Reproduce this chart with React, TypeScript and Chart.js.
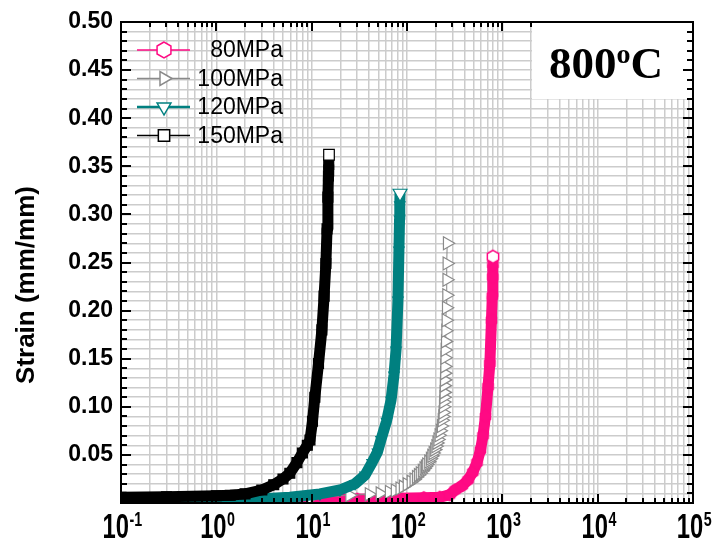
import React, { useEffect, useRef } from 'react';
import { Chart, registerables } from 'chart.js';

Chart.register(...registerables);

// ---------- data ----------
const SERIES_LABELS = ['80MPa', '100MPa', '120MPa', '150MPa'];
const SERIES_COLORS = ['#ff0a84', '#8a8a8a', '#008080', '#000000'];

// 80 MPa (time h, strain)
const T_80 = [0.1, 0.5, 2, 5, 10, 30, 80, 150, 220, 280, 319, 380, 437, 490, 542, 590, 627, 665, 708, 740, 769, 785, 793, 796, 798];
const S_80 = [0.0005, 0.001, 0.0015, 0.0025, 0.003, 0.004, 0.005, 0.0055, 0.006, 0.0085, 0.0135, 0.018, 0.024, 0.032, 0.042, 0.055, 0.07, 0.09, 0.121, 0.145, 0.19, 0.215, 0.235, 0.248, 0.256];

// 100 MPa
const T_100 = [3, 10, 25, 40, 52, 65, 75, 84, 91, 100, 110, 118, 125, 131, 137, 144, 150, 155, 160, 168, 175, 181, 187, 194, 200, 205, 210, 216, 222, 228, 233, 236, 238, 240, 242, 243, 244, 245, 246, 247, 248, 249, 250, 252, 254, 256, 258, 260, 261, 262, 264];
const S_100 = [0.004, 0.006, 0.008, 0.009, 0.01, 0.0115, 0.013, 0.015, 0.017, 0.0195, 0.022, 0.0245, 0.027, 0.029, 0.031, 0.0335, 0.036, 0.038, 0.04, 0.043, 0.046, 0.049, 0.052, 0.0555, 0.059, 0.0625, 0.066, 0.0705, 0.075, 0.08, 0.086, 0.09, 0.094, 0.1, 0.105, 0.11, 0.115, 0.122, 0.128, 0.135, 0.142, 0.151, 0.159, 0.168, 0.179, 0.19, 0.203, 0.216, 0.232, 0.249, 0.27];

// 120 MPa
const T_120 = [0.3, 1, 3, 5.9, 12.2, 19.8, 28.5, 36.3, 43, 49, 53.4, 61, 68, 73, 76.7, 80.4, 82.3, 83.5, 84, 84.5];
const S_120 = [0.002, 0.003, 0.0045, 0.006, 0.0094, 0.0135, 0.02, 0.029, 0.042, 0.053, 0.066, 0.085, 0.107, 0.133, 0.159, 0.211, 0.263, 0.295, 0.31, 0.322];

// 150 MPa
const T_150 = [0.1, 0.3, 1, 1.4, 2, 3, 4, 5, 5.9, 7, 8, 9, 9.6, 10.2, 10.8, 11.8, 12.8, 13.5, 14.1, 14.5, 14.8, 15.0, 15.1, 15.2];
const S_150 = [0.006, 0.0065, 0.0075, 0.008, 0.0095, 0.0135, 0.019, 0.025, 0.031, 0.042, 0.052, 0.06, 0.0655, 0.085, 0.11, 0.145, 0.18, 0.215, 0.249, 0.285, 0.318, 0.34, 0.352, 0.362];

const X_EXPONENTS = [-1, 0, 1, 2, 3, 4, 5];
const Y_MIN = 0;
const Y_MAX = 0.5;
const Y_MINOR_HUNDREDTHS = 1; // minor step 0.01
const Y_MAJOR_HUNDREDTHS = 5; // labelled every 0.05
const Y_TITLE = 'Strain (mm/mm)';
const BOX_MAIN = '800';
const BOX_SUP = 'o';
const BOX_END = 'C';

// ---------- helpers ----------
const SANS = 'Arial, "Liberation Sans", sans-serif';
const SERIF = '"Times New Roman", "Liberation Serif", serif';
const GRID = 'rgb(204,204,204)';

function hexPath(g: CanvasRenderingContext2D, x: number, y: number, r: number) {
  g.beginPath();
  for (let k = 0; k < 6; k++) {
    const a = Math.PI / 2 + (k * Math.PI) / 3;
    const px = x + r * Math.cos(a);
    const py = y - r * Math.sin(a);
    if (k === 0) g.moveTo(px, py);
    else g.lineTo(px, py);
  }
  g.closePath();
}

function makeHex(r: number, fill: string, stroke: string, lw: number) {
  const size = Math.ceil(2 * r + lw + 3);
  const c = document.createElement('canvas');
  c.width = size;
  c.height = size;
  const g = c.getContext('2d')!;
  hexPath(g, size / 2, size / 2, r);
  g.fillStyle = fill;
  g.fill();
  g.lineWidth = lw;
  g.strokeStyle = stroke;
  g.stroke();
  return c;
}

function drawMarker(g: CanvasRenderingContext2D, kind: string, x: number, y: number, r: number, stroke: string, lw: number) {
  g.save();
  g.fillStyle = '#fff';
  g.strokeStyle = stroke;
  g.lineWidth = lw;
  g.beginPath();
  if (kind === 'hex') {
    hexPath(g, x, y, r);
  } else if (kind === 'right') {
    g.moveTo(x + r, y);
    g.lineTo(x - r / 2, y - r * 0.866);
    g.lineTo(x - r / 2, y + r * 0.866);
    g.closePath();
  } else if (kind === 'down') {
    g.moveTo(x, y + r);
    g.lineTo(x - r * 0.866, y - r / 2);
    g.lineTo(x + r * 0.866, y - r / 2);
    g.closePath();
  } else {
    const s = r * Math.SQRT1_2;
    g.rect(x - s, y - s, 2 * s, 2 * s);
  }
  g.fill();
  g.stroke();
  g.restore();
}

const LEGEND_KINDS = ['hex', 'right', 'down', 'rect'];
const LEGEND_LINE_W = [1.5, 1.5, 2.5, 1.5];

const overlayPlugin = {
  id: 'overlay',
  afterDatasetsDraw(chart: any) {
    const { ctx, chartArea: a } = chart;
    // title box
    const bx = a.right - 161;
    const by = a.top;
    ctx.save();
    ctx.fillStyle = '#fff';
    ctx.fillRect(bx, by + 1, a.right - bx - 1, 76);
    ctx.fillStyle = '#000';
    ctx.textBaseline = 'alphabetic';
    ctx.font = `bold 45px ${SERIF}`;
    const w1 = ctx.measureText(BOX_MAIN).width;
    const w3 = ctx.measureText(BOX_END).width;
    ctx.font = `bold 28px ${SERIF}`;
    const w2 = ctx.measureText(BOX_SUP).width;
    const total = w1 + w2 + w3;
    let tx = bx + 74 - total / 2;
    ctx.font = `bold 45px ${SERIF}`;
    ctx.fillText(BOX_MAIN, tx, by + 56);
    tx += w1;
    ctx.font = `bold 28px ${SERIF}`;
    ctx.fillText(BOX_SUP, tx, by + 41);
    tx += w2;
    ctx.font = `bold 45px ${SERIF}`;
    ctx.fillText(BOX_END, tx, by + 56);
    ctx.restore();
  },
  afterDraw(chart: any) {
    const { ctx, chartArea: a, scales } = chart;
    const xs = scales.x;
    const ys = scales.y;
    const boxLeft = a.right - 161;
    ctx.save();
    ctx.strokeStyle = '#000';
    ctx.lineWidth = 2;
    ctx.beginPath();
    // y ticks (inward on left and right)
    ys.ticks.forEach((t: any) => {
      const n = Math.round(t.value * 100);
      if (n <= 0 || n >= 50) return;
      const py = Math.round(ys.getPixelForValue(t.value));
      const len = n % Y_MAJOR_HUNDREDTHS === 0 ? 10 : 6;
      ctx.moveTo(a.left, py);
      ctx.lineTo(a.left + len, py);
      ctx.moveTo(a.right, py);
      ctx.lineTo(a.right - len, py);
    });
    // x ticks (inward on bottom and top)
    xs.ticks.forEach((t: any) => {
      const px = Math.round(xs.getPixelForValue(t.value));
      if (px <= a.left + 1 || px >= a.right - 1) return;
      const lg = Math.log10(t.value);
      const major = Math.abs(lg - Math.round(lg)) < 1e-6;
      const len = major ? 9 : 5;
      ctx.moveTo(px, a.bottom);
      ctx.lineTo(px, a.bottom - len);
      if (px < boxLeft) {
        ctx.moveTo(px, a.top);
        ctx.lineTo(px, a.top + len);
      }
    });
    ctx.stroke();
    // frame
    ctx.lineWidth = 2;
    ctx.strokeRect(a.left, a.top, a.right - a.left, a.bottom - a.top);

    // x labels 10^n
    ctx.fillStyle = '#000';
    ctx.textBaseline = 'alphabetic';
    const sx = 0.68;
    X_EXPONENTS.forEach((e) => {
      const px = xs.getPixelForValue(Math.pow(10, e));
      const base = '10';
      const sup = String(e);
      ctx.font = `bold 35px ${SANS}`;
      const wb = ctx.measureText(base).width * sx;
      ctx.font = `bold 21px ${SANS}`;
      const ws = ctx.measureText(sup).width * sx;
      const start = px - (wb + ws) / 2 + 1;
      ctx.save();
      ctx.translate(start, 0);
      ctx.scale(sx, 1);
      ctx.font = `bold 35px ${SANS}`;
      ctx.fillText(base, 0, a.bottom + 35);
      ctx.restore();
      ctx.save();
      ctx.translate(start + wb + 0.5, 0);
      ctx.scale(sx, 1);
      ctx.font = `bold 21px ${SANS}`;
      ctx.fillText(sup, 0, a.bottom + 23);
      ctx.restore();
    });

    // y title
    ctx.save();
    ctx.translate(27, 285);
    ctx.rotate(-Math.PI / 2);
    ctx.font = `bold 26px ${SANS}`;
    ctx.textAlign = 'center';
    ctx.textBaseline = 'middle';
    ctx.fillText(Y_TITLE, 0, 0);
    ctx.restore();

    // legend
    chart.data.datasets.forEach((ds: any, i: number) => {
      const ry = a.top + 28 + i * 28.5;
      const lx0 = a.left + 16;
      const lx1 = a.left + 69;
      const mx = (lx0 + lx1) / 2 + 0.5;
      ctx.save();
      ctx.strokeStyle = ds.borderColor;
      ctx.lineWidth = LEGEND_LINE_W[i];
      ctx.beginPath();
      ctx.moveTo(lx0, ry);
      ctx.lineTo(lx1, ry);
      ctx.stroke();
      drawMarker(ctx, LEGEND_KINDS[i], mx, ry, 8, ds.borderColor, 1.5);
      ctx.fillStyle = '#000';
      ctx.font = `23px ${SANS}`;
      ctx.textAlign = 'right';
      ctx.textBaseline = 'middle';
      ctx.fillText(ds.label, a.left + 162, ry + 1);
      ctx.restore();
    });
    ctx.restore();
  },
};

function buildDataset(
  label: string,
  color: string,
  ts: number[],
  ss: number[],
  opts: { thick: boolean; thinLast: boolean; style: any; radius: number; lastRadius: number; rotation: number; order: number; lastStyle?: any }
) {
  const last = ts.length - 1;
  return {
    label,
    data: ts.map((t, i) => ({ x: t, y: ss[i] })),
    showLine: true,
    borderColor: color,
    backgroundColor: color,
    borderWidth: opts.thick ? 11 : 1,
    borderJoinStyle: 'round',
    borderCapStyle: 'butt',
    segment: opts.thick && opts.thinLast
      ? { borderWidth: (c: any) => (c.p1DataIndex === last ? 1 : 11) }
      : undefined,
    tension: 0,
    pointStyle: (c: any) => (opts.lastStyle && c.dataIndex === last ? opts.lastStyle : opts.style),
    pointRotation: opts.rotation,
    pointRadius: (c: any) => (c.dataIndex === last ? opts.lastRadius : opts.radius),
    pointBorderWidth: 1.2,
    pointBorderColor: color,
    pointBackgroundColor: (c: any) => (opts.thick && c.dataIndex !== last ? color : '#ffffff'),
    order: opts.order,
    clip: 0,
  };
}

export default function App() {
  const ref = useRef<HTMLCanvasElement | null>(null);

  useEffect(() => {
    if (!ref.current) return;
    const hexFilled = makeHex(6, SERIES_COLORS[0], SERIES_COLORS[0], 1.2);
    const hexOpen = makeHex(6.5, '#ffffff', SERIES_COLORS[0], 1.5);

    const xGrid: number[] = [];
    for (let k = 0; k < X_EXPONENTS.length - 1; k++) {
      for (let m = 1; m <= 9; m++) xGrid.push(m * Math.pow(10, X_EXPONENTS[k]));
    }
    xGrid.push(Math.pow(10, X_EXPONENTS[X_EXPONENTS.length - 1]));

    const yGrid: number[] = [];
    for (let n = Math.round(Y_MIN * 100); n <= Math.round(Y_MAX * 100); n += Y_MINOR_HUNDREDTHS) yGrid.push(n / 100);

    const chart = new Chart(ref.current, {
      type: 'scatter',
      data: {
        datasets: [
          buildDataset(SERIES_LABELS[0], SERIES_COLORS[0], T_80, S_80, { thick: true, thinLast: true, style: hexFilled, lastStyle: hexOpen, radius: 6, lastRadius: 7, rotation: 0, order: 4 }),
          buildDataset(SERIES_LABELS[1], SERIES_COLORS[1], T_100, S_100, { thick: false, thinLast: false, style: 'triangle', radius: 7.5, lastRadius: 7.5, rotation: 90, order: 3 }),
          buildDataset(SERIES_LABELS[2], SERIES_COLORS[2], T_120, S_120, { thick: true, thinLast: false, style: 'triangle', radius: 6, lastRadius: 8, rotation: 180, order: 2 }),
          buildDataset(SERIES_LABELS[3], SERIES_COLORS[3], T_150, S_150, { thick: true, thinLast: true, style: 'rect', radius: 7, lastRadius: 7.5, rotation: 0, order: 1 }),
        ] as any,
      },
      options: {
        animation: false,
        responsive: true,
        maintainAspectRatio: false,
        devicePixelRatio: 1,
        events: [],
        layout: { padding: { left: 0, right: 21, top: 22, bottom: 39 } },
        plugins: {
          legend: { display: false },
          tooltip: { enabled: false },
          title: { display: false },
        },
        scales: {
          x: {
            type: 'logarithmic',
            min: Math.pow(10, X_EXPONENTS[0]),
            max: Math.pow(10, X_EXPONENTS[X_EXPONENTS.length - 1]),
            afterBuildTicks: (s: any) => {
              s.ticks = xGrid.map((v) => ({ value: v }));
            },
            afterFit: (s: any) => {
              s.height = 0;
            },
            ticks: { display: false, autoSkip: false },
            grid: { color: GRID, lineWidth: 1.5, drawTicks: false },
            border: { display: false },
          },
          y: {
            type: 'linear',
            min: Y_MIN,
            max: Y_MAX,
            afterBuildTicks: (s: any) => {
              s.ticks = yGrid.map((v) => ({ value: v }));
            },
            afterFit: (s: any) => {
              s.width = 121;
            },
            ticks: {
              autoSkip: false,
              padding: 8,
              color: '#000',
              font: { family: SANS, size: 23, weight: 'bold' },
              callback: (v: any) => {
                const n = Math.round(Number(v) * 100);
                return n > 0 && n % Y_MAJOR_HUNDREDTHS === 0 ? (n / 100).toFixed(2) : '';
              },
            },
            grid: { color: GRID, lineWidth: 1.5, drawTicks: false },
            border: { display: false },
          },
        },
      } as any,
      plugins: [overlayPlugin as any],
    });
    return () => chart.destroy();
  }, []);

  return (
    <div style={{ position: 'absolute', left: 0, top: 0, width: 714, height: 542, background: '#fff' }}>
      <canvas ref={ref} style={{ display: 'block' }} />
    </div>
  );
}
